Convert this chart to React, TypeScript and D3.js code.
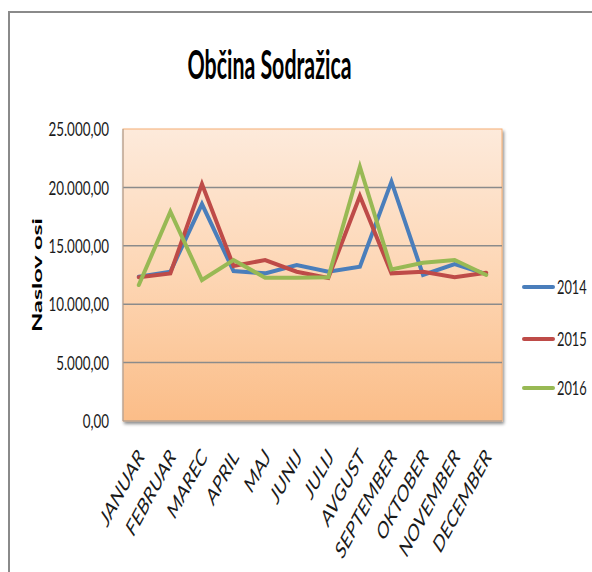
import React from 'react';
import * as d3 from 'd3';

const months = ['JANUAR', 'FEBRUAR', 'MAREC', 'APRIL', 'MAJ', 'JUNIJ', 'JULIJ', 'AVGUST', 'SEPTEMBER', 'OKTOBER', 'NOVEMBER', 'DECEMBER'];
const years = ['2014', '2015', '2016'];
const s2014 = [12350, 12780, 18575, 12840, 12640, 13350, 12780, 13200, 20490, 12500, 13440, 12580];
const s2015 = [12300, 12640, 20290, 13270, 13780, 12780, 12240, 19260, 12640, 12780, 12300, 12700];
const s2016 = [11640, 17920, 12070, 13780, 12270, 12270, 12300, 21770, 12980, 13550, 13780, 12500];
const yTicks = [0, 5000, 10000, 15000, 20000, 25000];
const colors = ['#4a7ebb', '#be4b48', '#98b954'];

const W = 592;
const H = 572;
const SX = 0.67;
const FONT = 'Lato, "Open Sans", sans-serif';

export default function App() {
  const plot = { left: 123, right: 502, top: 129, bottom: 421 };
  const x = d3.scaleBand<string>().domain(months).range([plot.left, plot.right]);
  const y = d3.scaleLinear().domain([0, 25000]).range([plot.bottom, plot.top]);
  const cx = (m: string) => (x(m) as number) + x.bandwidth() / 2;
  const loc = d3.formatLocale({ decimal: ',', thousands: '.', grouping: [3], currency: ['', ''] });
  const fmt = loc.format(',.2f');
  const series = [s2014, s2015, s2016];
  const line = d3
    .line<number>()
    .x((_, i) => cx(months[i]))
    .y((d) => y(d));
  const legendY = [287, 339, 388];

  return (
    <svg width={W} height={H} style={{ position: 'absolute', left: 0, top: 0, background: '#fff' }}>
      <defs>
        <linearGradient id="pg" x1="0" y1="0" x2="0" y2="1">
          <stop offset="0" stopColor="#fdeadb" />
          <stop offset="0.5" stopColor="#fdd6b4" />
          <stop offset="1" stopColor="#fbbd88" />
        </linearGradient>
        <filter id="sh" x="-5%" y="-5%" width="115%" height="115%">
          <feDropShadow dx="1.5" dy="2.5" stdDeviation="1.8" floodColor="#000" floodOpacity="0.45" />
        </filter>
      </defs>
      {/* frame */}
      <line x1={8} x2={W} y1={12} y2={12} stroke="#8a8a8a" strokeWidth={2} />
      <line x1={9} x2={9} y1={12} y2={H} stroke="#8a8a8a" strokeWidth={2} />

      {/* title */}
      <text
        x={269.5}
        y={79}
        textAnchor="middle"
        fontFamily={FONT}
        fontWeight="bold"
        fontSize={41}
        textLength={164}
        lengthAdjust="spacingAndGlyphs"
        fill="#000"
      >
        Občina Sodražica
      </text>

      {/* plot area */}
      <rect
        x={plot.left}
        y={plot.top}
        width={plot.right - plot.left}
        height={plot.bottom - plot.top}
        fill="url(#pg)"
        stroke="#f5ae74"
        strokeWidth={1}
        filter="url(#sh)"
      />
      {yTicks
        .filter((t) => t > 0 && t < 25000)
        .map((t) => (
          <line key={t} x1={plot.left} x2={plot.right} y1={y(t)} y2={y(t)} stroke="#8b8b8b" strokeWidth={1.5} />
        ))}
      <line x1={plot.left} x2={plot.right} y1={plot.bottom} y2={plot.bottom} stroke="#9a9a9a" strokeWidth={1} />
      <line x1={plot.left} x2={plot.left} y1={plot.top} y2={plot.bottom} stroke="#a0a0a0" strokeWidth={1} />

      {/* y ticks */}
      {yTicks.map((t) => (
        <text
          key={t}
          transform={`translate(109,${y(t)}) scale(${SX},1)`}
          textAnchor="end"
          dy="0.36em"
          fontFamily={FONT}
          fontSize={20}
          fill="#1a1a1a"
        >
          {fmt(t)}
        </text>
      ))}

      {/* y title */}
      <text
        transform={`translate(42,275) scale(${SX},1) rotate(-90)`}
        textAnchor="middle"
        fontFamily={FONT}
        fontWeight="bold"
        fontSize={21}
        textLength={114}
        lengthAdjust="spacingAndGlyphs"
        fill="#000"
      >
        Naslov osi
      </text>

      {/* x labels */}
      {months.map((m) => (
        <text
          key={m}
          transform={`translate(${cx(m) + 6},458) scale(0.62,1) rotate(-49)`}
          textAnchor="end"
          fontFamily={FONT}
          fontSize={24}
          fill="#1a1a1a"
        >
          {m}
        </text>
      ))}

      {/* lines */}
      {series.map((s, i) => (
        <path
          key={years[i]}
          d={line(s) as string}
          fill="none"
          stroke={colors[i]}
          strokeWidth={4}
          strokeLinejoin="miter"
          strokeLinecap="round"
        />
      ))}

      {/* legend */}
      {years.map((yr, i) => (
        <g key={yr}>
          <line x1={524} x2={553} y1={legendY[i]} y2={legendY[i]} stroke={colors[i]} strokeWidth={4} strokeLinecap="round" />
          <text
            transform={`translate(557,${legendY[i]}) scale(0.64,1)`}
            dy="0.36em"
            fontFamily={FONT}
            fontSize={20}
            fill="#1a1a1a"
          >
            {yr}
          </text>
        </g>
      ))}
    </svg>
  );
}
